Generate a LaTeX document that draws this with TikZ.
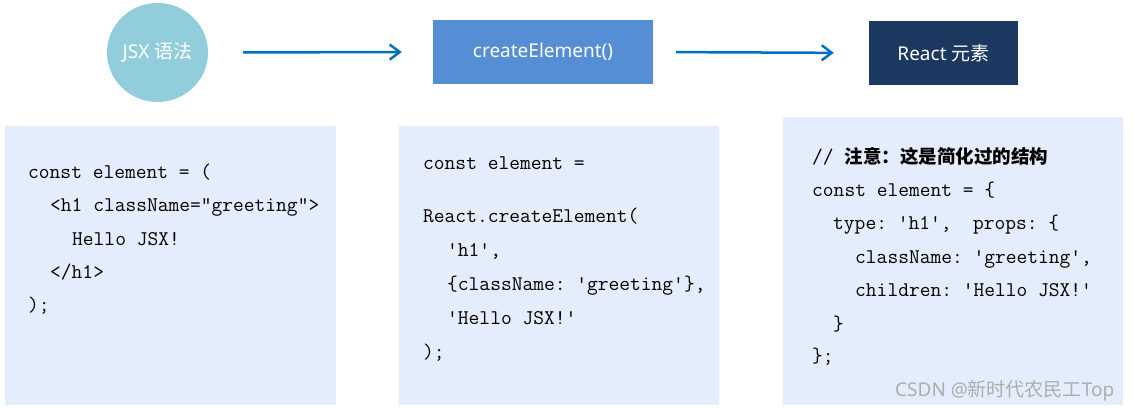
\documentclass[tikz,border=0pt]{standalone}
\usepackage{fontspec}
\setmainfont{Noto Sans}
\newfontfamily\cjk{Noto Sans CJK SC}
\usetikzlibrary{shapes.geometric, arrows.meta}
\definecolor{jsxblue}{HTML}{92CDDC}
\definecolor{createblue}{HTML}{558ED5}
\definecolor{reactblue}{HTML}{1B3861}
\definecolor{codebg}{HTML}{E4EDFC}
\definecolor{arrowblue}{HTML}{0070C0}
\begin{document}
\begin{tikzpicture}[x=1pt, y=-1pt,
    every node/.style={inner sep=0},
    head/.style={text=white, font=\fontsize{19}{21}\selectfont},
    code/.style={anchor=base west, font=\fontsize{20.9}{22}\ttfamily\frenchspacing},
    flow/.style={-{Straight Barb[length=10pt, width=15pt]}, line width=2.5pt, draw=arrowblue}]
    \useasboundingbox (0,0) rectangle (1134,409);
    % top row
    \node[head, ellipse, fill=jsxblue, minimum width=101pt, minimum height=99pt] (jsx) at (157.5,52.5) {JSX {\cjk 语法}};
    \node[head, fill=createblue, minimum width=220pt, minimum height=64pt] (create) at (543,52) {createElement()};
    \node[head, fill=reactblue, minimum width=149pt, minimum height=64pt] (react) at (943.5,53) {React {\cjk 元素}};
    \draw[flow, shorten <=35pt, shorten >=31pt] (jsx.east) -- (create.west);
    \draw[flow, shorten <=23pt, shorten >=35pt] (create.east) -- (react.west);
    % code panels
    \fill[codebg] (5,126) rectangle (336,405);
    \fill[codebg] (399,126) rectangle (719,405);
    \fill[codebg] (783,117) rectangle (1123,405);
    \node[code] (jsx1) at (28,178) {const element = (};
    \node[code] (jsx2) at (50,211) {<h1 className="greeting">};
    \node[code] (jsx3) at (72,245) {Hello JSX!};
    \node[code] (jsx4) at (50,278) {</h1>};
    \node[code] (jsx5) at (28,311) {);};
    \node[code] (ce1) at (423,169) {const element =};
    \node[code] (ce2) at (423,222) {React.createElement(};
    \node[code] (ce3) at (447,256) {'h1',};
    \node[code] (ce4) at (447,290) {\{className: 'greeting'\},};
    \node[code] (ce5) at (447,324) {'Hello JSX!'};
    \node[code] (ce6) at (423,358) {);};
    \node[code] (re1) at (812,163) {// {\cjk\bfseries\fontsize{18.5}{20}\selectfont 注意：这是简化过的结构}};
    \node[code] (re2) at (812,196) {const element = \{};
    \node[code] (re3) at (833,229) {type: 'h1',~ props: \{};
    \node[code] (re4) at (855,263) {className: 'greeting',};
    \node[code] (re5) at (855,296) {children: 'Hello JSX!'};
    \node[code] (re6) at (833,330) {\}};
    \node[code] (re7) at (812,362) {\};};
    % watermark
    \node[anchor=base west, text=black!32, font=\fontsize{19}{21}\selectfont] (mark) at (895,396) {CSDN @{\cjk 新时代农民工}Top};
\end{tikzpicture}
\end{document}
